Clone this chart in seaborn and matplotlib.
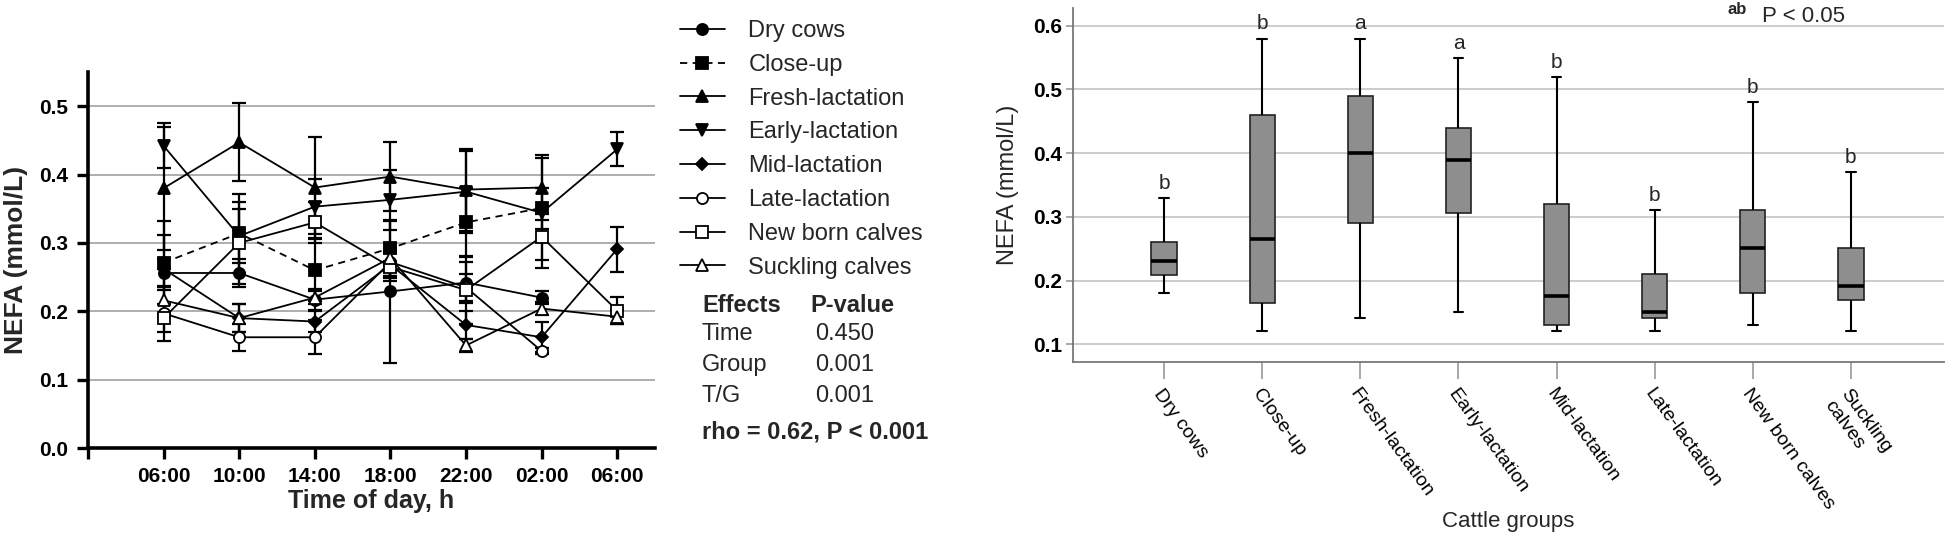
import numpy as np
import pandas as pd
import matplotlib
matplotlib.use("Agg")
import matplotlib.pyplot as plt
import seaborn as sns

# ---- left panel: NEFA over the day (mean +/- SE) ----
times = ["06:00", "10:00", "14:00", "18:00", "22:00", "02:00", "06:00"]

dry = [0.256, 0.256, 0.217, 0.229, 0.242, 0.220]
dry_err = [0.02, 0.02, 0.015, 0.105, 0.03, 0.01]
close_up = [0.271, 0.314, 0.260, 0.292, 0.330, 0.351]
close_up_err = [0.04, 0.058, 0.045, 0.04, 0.05, 0.03]
fresh = [0.380, 0.447, 0.381, 0.397, 0.378, 0.381]
fresh_err = [0.09, 0.057, 0.074, 0.05, 0.06, 0.048]
early = [0.442, 0.310, 0.353, 0.363, 0.375, 0.344, 0.437]
early_err = [0.033, 0.04, 0.04, 0.044, 0.06, 0.08, 0.025]
mid = [0.262, 0.190, 0.185, 0.268, 0.180, 0.162, 0.291]
mid_err = [0.07, 0.02, 0.015, 0.02, 0.02, 0.022, 0.033]
late = [0.197, 0.162, 0.162, 0.272, 0.235, 0.142]
late_err = [0.04, 0.02, 0.025, 0.02, 0.02, 0.005]
newborn = [0.190, 0.300, 0.330, 0.265, 0.231, 0.309, 0.201]
newborn_err = [0.02, 0.06, 0.03, 0.02, 0.05, 0.034, 0.02]
suckling = [0.216, 0.190, 0.220, 0.278, 0.150, 0.204, 0.192]
suckling_err = [0.02, 0.02, 0.01, 0.02, 0.01, 0.01, 0.01]

effects = ["Time", "Group", "T/G"]
p_values = ["0.450", "0.001", "0.001"]

# ---- right panel: five-number summaries per group ----
groups = ["Dry cows", "Close-up", "Fresh-lactation", "Early-lactation",
          "Mid-lactation", "Late-lactation", "New born calves", "Suckling\ncalves"]
whisk_lo = [0.180, 0.121, 0.141, 0.150, 0.121, 0.121, 0.130, 0.121]
q1 = [0.209, 0.165, 0.291, 0.306, 0.130, 0.141, 0.180, 0.170]
median = [0.230, 0.265, 0.400, 0.390, 0.176, 0.150, 0.251, 0.191]
q3 = [0.260, 0.460, 0.490, 0.440, 0.320, 0.210, 0.310, 0.251]
whisk_hi = [0.330, 0.580, 0.580, 0.550, 0.520, 0.310, 0.480, 0.370]
letters = ["b", "b", "a", "a", "b", "b", "b", "b"]

sns.set_style("white")
plt.rcParams['font.family'] = ['Liberation Sans', 'DejaVu Sans']

fig = plt.figure(figsize=(19.46, 5.36), dpi=100)
ax = fig.add_axes([88 / 1946, 1 - 448 / 536, 567 / 1946, 376 / 536])
ax2 = fig.add_axes([1073 / 1946, 1 - 362 / 536, 871 / 1946, 354 / 536])

series = [
    ("Dry cows", dry, dry_err, "o", "black", "-"),
    ("Close-up", close_up, close_up_err, "s", "black", (0, (4, 3))),
    ("Fresh-lactation", fresh, fresh_err, "^", "black", "-"),
    ("Early-lactation", early, early_err, "v", "black", "-"),
    ("Mid-lactation", mid, mid_err, "D", "black", "-"),
    ("Late-lactation", late, late_err, "o", "white", "-"),
    ("New born calves", newborn, newborn_err, "s", "white", "-"),
    ("Suckling calves", suckling, suckling_err, "^", "white", "-"),
]

for name, vals, err, mk, face, ls in series:
    pos = np.arange(1, len(vals) + 1)
    ax.errorbar(pos, vals, yerr=err, fmt="none", ecolor="black",
                elinewidth=1.6, capsize=5, capthick=1.6, zorder=2)
    sns.lineplot(x=pos, y=vals, ax=ax, color="black", linewidth=1.3,
                 linestyle=ls, marker=mk, markersize=6.5 if mk == "D" else 8,
                 markerfacecolor=face, markeredgecolor="black",
                 markeredgewidth=1.3, errorbar=None, label=name, zorder=3)

ax.set_xlim(0, 7.5)
ax.set_ylim(0, 0.55)
ax.set_xticks(range(0, 8))
ax.set_xticklabels([""] + times, fontsize=15, fontweight="bold")
ax.set_yticks([0.0, 0.1, 0.2, 0.3, 0.4, 0.5])
ax.set_yticklabels(["0.0", "0.1", "0.2", "0.3", "0.4", "0.5"],
                   fontsize=15, fontweight="bold")
ax.grid(axis="y", color="#a8a8a8", linewidth=1.3)
ax.set_axisbelow(True)
for s in ["top", "right"]:
    ax.spines[s].set_visible(False)
for s in ["left", "bottom"]:
    ax.spines[s].set_linewidth(2.6)
    ax.spines[s].set_color("black")
ax.tick_params(axis="both", direction="out", length=8, width=2.4,
               colors="black", bottom=True, left=True, pad=6)
ax.set_xlabel("Time of day, h", fontsize=18, fontweight="bold", labelpad=2)
ax.set_ylabel("NEFA (mmol/L)", fontsize=19, fontweight="bold", labelpad=8)

handles, labels = ax.get_legend_handles_labels()
if ax.legend_:
    ax.legend_.remove()
fig.legend(handles, labels, loc="upper left",
           bbox_to_anchor=(680 / 1946, 1 - 20 / 536), frameon=False,
           fontsize=17, handlelength=1.9, handletextpad=1.0,
           labelspacing=0.5, borderpad=0, borderaxespad=0)

fig.text(702 / 1946, 1 - 305 / 536, "Effects", fontsize=17,
         fontweight="bold", va="center")
fig.text(810 / 1946, 1 - 305 / 536, "P-value", fontsize=17,
         fontweight="bold", va="center")
for i, (eff, pv) in enumerate(zip(effects, p_values)):
    y = 1 - (334 + i * 31) / 536
    fig.text(702 / 1946, y, eff, fontsize=17, va="center")
    fig.text(815 / 1946, y, pv, fontsize=17, va="center")
fig.text(702 / 1946, 1 - 432 / 536, "rho = 0.62, P < 0.001", fontsize=17,
         fontweight="bold", va="center")

# right panel
box_df = pd.DataFrame({
    "group": np.repeat(groups, 5),
    "nefa": np.column_stack([whisk_lo, q1, median, q3, whisk_hi]).ravel(),
})
sns.boxplot(data=box_df, x="group", y="nefa", order=groups, ax=ax2,
            color="#8e8e8e", width=0.26, whis=(0, 100), showfliers=False,
            linecolor="#222222", linewidth=1.2, capwidths=0.1,
            medianprops=dict(color="black", linewidth=2.6),
            whiskerprops=dict(color="black", linewidth=1.5),
            capprops=dict(color="black", linewidth=1.5))

for i, (lt, top) in enumerate(zip(letters, whisk_hi)):
    ax2.text(i, top + 0.008, lt, ha="center", va="bottom", fontsize=15)

ax2.set_xlim(-0.93, 7.95)
ax2.set_ylim(0.072, 0.628)
ax2.set_yticks([0.1, 0.2, 0.3, 0.4, 0.5, 0.6])
ax2.set_yticklabels(["0.1", "0.2", "0.3", "0.4", "0.5", "0.6"],
                    fontsize=15, fontweight="bold")
ax2.set_xticks(range(len(groups)))
ax2.set_xticklabels(groups, rotation=-54, ha="left", va="top",
                    rotation_mode="anchor", fontsize=14)
ax2.grid(axis="y", color="#c8c8c8", linewidth=1.3)
ax2.set_axisbelow(True)
for s in ["top", "right"]:
    ax2.spines[s].set_visible(False)
for s in ["left", "bottom"]:
    ax2.spines[s].set_linewidth(1.3)
    ax2.spines[s].set_color("#777777")
ax2.tick_params(axis="x", direction="out", length=12, width=1.2,
                colors="#999999", labelcolor="black", bottom=True, pad=5)
ax2.tick_params(axis="y", direction="out", length=5, width=1.2,
                colors="#999999", labelcolor="black", left=True, pad=3)
ax2.set_xlabel("Cattle groups", fontsize=16, va="center")
ax2.xaxis.set_label_coords(0.5, (362 - 522) / 354)
ax2.set_ylabel("NEFA (mmol/L)", fontsize=17, labelpad=10)

fig.text(1728 / 1946, 1 - 10 / 536, "ab", fontsize=12, fontweight="bold",
         va="center")
fig.text(1762 / 1946, 1 - 16 / 536, "P < 0.05", fontsize=16, va="center")

fig.savefig("out.png", dpi=100)
